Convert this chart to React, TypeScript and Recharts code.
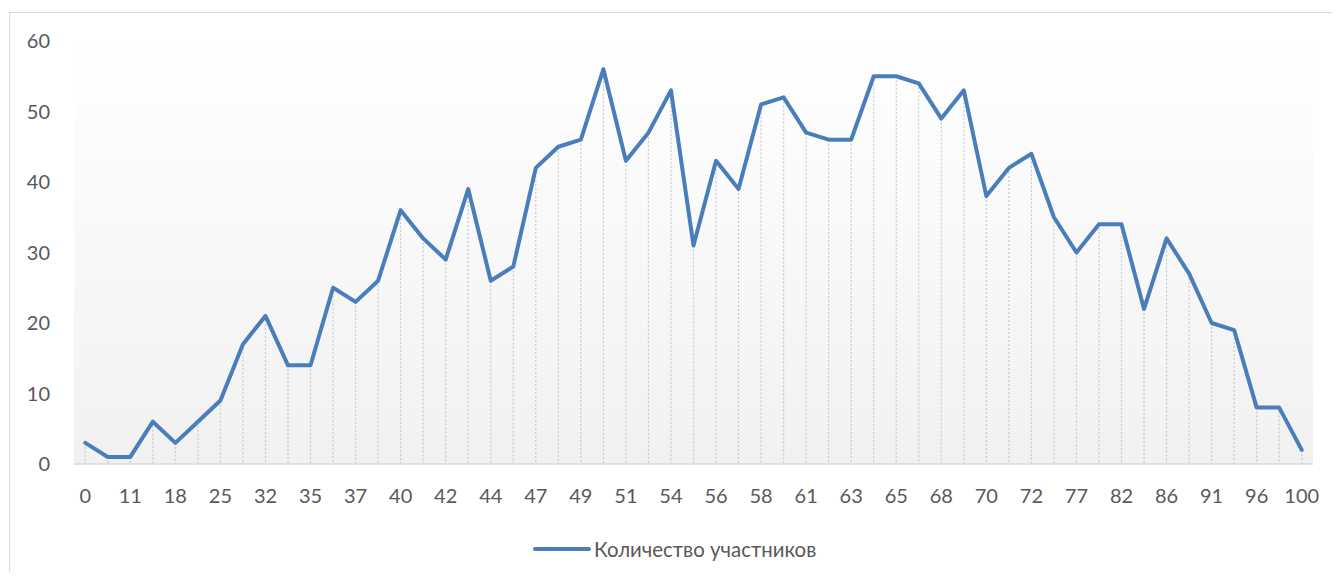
import { ComposedChart, Line, Bar, XAxis, YAxis, CartesianGrid, Legend } from "recharts";

// баллы (категории оси X) и количество участников
const scores = [
  "0", "6", "11", "14", "18", "21", "25", "28", "32", "33",
  "35", "36", "37", "39", "40", "41", "42", "43", "44", "46",
  "47", "48", "49", "50", "51", "53", "54", "55", "56", "57",
  "58", "60", "61", "62", "63", "64", "65", "67", "68", "69",
  "70", "71", "72", "75", "77", "79", "82", "84", "86", "89",
  "91", "93", "96", "98", "100",
];

const participants = [
  3, 1, 1, 6, 3, 6, 9, 17, 21, 14,
  14, 25, 23, 26, 36, 32, 29, 39, 26, 28,
  42, 45, 46, 56, 43, 47, 53, 31, 43, 39,
  51, 52, 47, 46, 46, 55, 55, 54, 49, 53,
  38, 42, 44, 35, 30, 34, 34, 22, 32, 27,
  20, 19, 8, 8, 2,
];

const yTicks = [0, 10, 20, 30, 40, 50, 60];

const seriesName = "Количество участников";

const LINE_COLOR = "#4a7ebb";
const TEXT_COLOR = "#595959";

const data = scores.map((s, i) => ({ score: s, count: participants[i] }));

// вертикальная пунктирная линия от точки до оси
const DropLine = (props: any) => {
  const { x, y, width, height } = props;
  if (height == null || height <= 0) return null;
  const cx = x + width / 2;
  return (
    <line
      x1={cx}
      x2={cx}
      y1={y}
      y2={y + height}
      stroke="#c9c9c9"
      strokeWidth={1.2}
      strokeDasharray="2 2"
    />
  );
};

const LegendContent = () => (
  <div style={{ display: "flex", alignItems: "center", height: 30 }}>
    <svg width={58} height={10}>
      <line x1={2} x2={56} y1={5} y2={5} stroke={LINE_COLOR} strokeWidth={4} strokeLinecap="round" />
    </svg>
    <span style={{ color: TEXT_COLOR, fontSize: 20.4, marginLeft: 3, whiteSpace: "nowrap" }}>{seriesName}</span>
  </div>
);

export default function App() {
  return (
    <div
      style={{
        marginLeft: 1,
        marginTop: 4,
        width: 1331,
        height: 560,
        borderTop: "1px solid #d9d9d9",
        borderLeft: "1px solid #d9d9d9",
        boxSizing: "border-box",
        fontFamily: "Lato, sans-serif",
        background: "#fff",
      }}
    >
      <ComposedChart
        width={1330}
        height={559}
        data={data}
        margin={{ top: 28, right: 27, left: 10, bottom: 8 }}
      >
        <defs>
          <linearGradient id="plotBg" x1="0" y1="0" x2="0" y2="1">
            <stop offset="0%" stopColor="#ffffff" />
            <stop offset="100%" stopColor="#f1f1f1" />
          </linearGradient>
        </defs>
        <CartesianGrid horizontal={false} vertical={false} fill="url(#plotBg)" />
        <XAxis
          dataKey="score"
          interval={1}
          height={70}
          tickLine={false}
          tickSize={0}
          tickMargin={25}
          axisLine={{ stroke: "#d9d9d9", strokeWidth: 1.5 }}
          tick={{ fill: TEXT_COLOR, fontSize: 20 }}
        />
        <YAxis
          width={54}
          domain={[0, 60]}
          ticks={yTicks}
          axisLine={false}
          tickLine={false}
          tickSize={0}
          tickMargin={24}
          tick={{ fill: TEXT_COLOR, fontSize: 20 }}
        />
        <Bar dataKey="count" shape={DropLine} isAnimationActive={false} legendType="none" />
        <Line
          type="linear"
          dataKey="count"
          name={seriesName}
          stroke={LINE_COLOR}
          strokeWidth={4}
          strokeLinejoin="round"
          strokeLinecap="round"
          dot={false}
          activeDot={false}
          isAnimationActive={false}
        />
        <Legend verticalAlign="bottom" height={30} content={LegendContent} wrapperStyle={{ left: 523 }} />
      </ComposedChart>
    </div>
  );
}
